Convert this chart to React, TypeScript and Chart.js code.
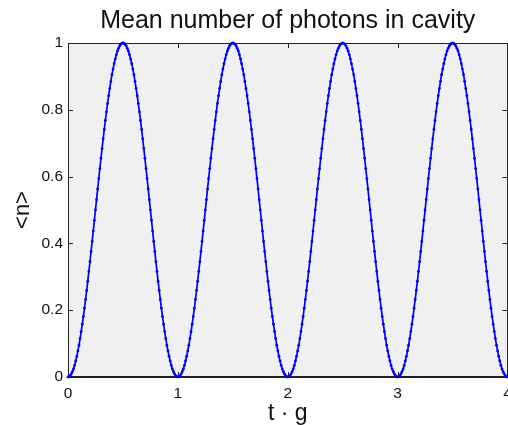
import { useEffect, useRef } from 'react';
import { Chart, registerables } from 'chart.js';

Chart.register(...registerables);

// Sample grid: t·g from 0 to 4 in steps of 0.01
const T_START = 0;
const T_STEP = 0.01;

// <n> samples, one Rabi cycle per array
const CYCLE_1 = [
  0, 0.001, 0.004, 0.009, 0.016, 0.024, 0.035, 0.048, 0.062, 0.078,
  0.095, 0.115, 0.136, 0.158, 0.181, 0.206, 0.232, 0.259, 0.287, 0.316,
  0.345, 0.376, 0.406, 0.437, 0.469, 0.5, 0.531, 0.563, 0.594, 0.624,
  0.655, 0.684, 0.713, 0.741, 0.768, 0.794, 0.819, 0.842, 0.864, 0.885,
  0.905, 0.922, 0.938, 0.952, 0.965, 0.976, 0.984, 0.991, 0.996, 0.999,
  1, 0.999, 0.996, 0.991, 0.984, 0.976, 0.965, 0.952, 0.938, 0.922,
  0.905, 0.885, 0.864, 0.842, 0.819, 0.794, 0.768, 0.741, 0.713, 0.684,
  0.655, 0.624, 0.594, 0.563, 0.531, 0.5, 0.469, 0.437, 0.406, 0.376,
  0.345, 0.316, 0.287, 0.259, 0.232, 0.206, 0.181, 0.158, 0.136, 0.115,
  0.095, 0.078, 0.062, 0.048, 0.035, 0.024, 0.016, 0.009, 0.004, 0.001,
];
const CYCLE_2 = [
  0, 0.001, 0.004, 0.009, 0.016, 0.024, 0.035, 0.048, 0.062, 0.078,
  0.095, 0.115, 0.136, 0.158, 0.181, 0.206, 0.232, 0.259, 0.287, 0.316,
  0.345, 0.376, 0.406, 0.437, 0.469, 0.5, 0.531, 0.563, 0.594, 0.624,
  0.655, 0.684, 0.713, 0.741, 0.768, 0.794, 0.819, 0.842, 0.864, 0.885,
  0.905, 0.922, 0.938, 0.952, 0.965, 0.976, 0.984, 0.991, 0.996, 0.999,
  1, 0.999, 0.996, 0.991, 0.984, 0.976, 0.965, 0.952, 0.938, 0.922,
  0.905, 0.885, 0.864, 0.842, 0.819, 0.794, 0.768, 0.741, 0.713, 0.684,
  0.655, 0.624, 0.594, 0.563, 0.531, 0.5, 0.469, 0.437, 0.406, 0.376,
  0.345, 0.316, 0.287, 0.259, 0.232, 0.206, 0.181, 0.158, 0.136, 0.115,
  0.095, 0.078, 0.062, 0.048, 0.035, 0.024, 0.016, 0.009, 0.004, 0.001,
];
const CYCLE_3 = [
  0, 0.001, 0.004, 0.009, 0.016, 0.024, 0.035, 0.048, 0.062, 0.078,
  0.095, 0.115, 0.136, 0.158, 0.181, 0.206, 0.232, 0.259, 0.287, 0.316,
  0.345, 0.376, 0.406, 0.437, 0.469, 0.5, 0.531, 0.563, 0.594, 0.624,
  0.655, 0.684, 0.713, 0.741, 0.768, 0.794, 0.819, 0.842, 0.864, 0.885,
  0.905, 0.922, 0.938, 0.952, 0.965, 0.976, 0.984, 0.991, 0.996, 0.999,
  1, 0.999, 0.996, 0.991, 0.984, 0.976, 0.965, 0.952, 0.938, 0.922,
  0.905, 0.885, 0.864, 0.842, 0.819, 0.794, 0.768, 0.741, 0.713, 0.684,
  0.655, 0.624, 0.594, 0.563, 0.531, 0.5, 0.469, 0.437, 0.406, 0.376,
  0.345, 0.316, 0.287, 0.259, 0.232, 0.206, 0.181, 0.158, 0.136, 0.115,
  0.095, 0.078, 0.062, 0.048, 0.035, 0.024, 0.016, 0.009, 0.004, 0.001,
];
const CYCLE_4 = [
  0, 0.001, 0.004, 0.009, 0.016, 0.024, 0.035, 0.048, 0.062, 0.078,
  0.095, 0.115, 0.136, 0.158, 0.181, 0.206, 0.232, 0.259, 0.287, 0.316,
  0.345, 0.376, 0.406, 0.437, 0.469, 0.5, 0.531, 0.563, 0.594, 0.624,
  0.655, 0.684, 0.713, 0.741, 0.768, 0.794, 0.819, 0.842, 0.864, 0.885,
  0.905, 0.922, 0.938, 0.952, 0.965, 0.976, 0.984, 0.991, 0.996, 0.999,
  1, 0.999, 0.996, 0.991, 0.984, 0.976, 0.965, 0.952, 0.938, 0.922,
  0.905, 0.885, 0.864, 0.842, 0.819, 0.794, 0.768, 0.741, 0.713, 0.684,
  0.655, 0.624, 0.594, 0.563, 0.531, 0.5, 0.469, 0.437, 0.406, 0.376,
  0.345, 0.316, 0.287, 0.259, 0.232, 0.206, 0.181, 0.158, 0.136, 0.115,
  0.095, 0.078, 0.062, 0.048, 0.035, 0.024, 0.016, 0.009, 0.004, 0.001,
  0,
];

const X_TICKS = [0, 1, 2, 3, 4];
const Y_TICKS = [0, 0.2, 0.4, 0.6, 0.8, 1];

const TITLE = 'Mean number of photons in cavity';
const X_LABEL = 't · g';
const Y_LABEL = '<n>';

const FONT = '"Liberation Sans", Arial, Helvetica, sans-serif';
const TEXT_COLOR = '#111';

// Gray plot background, box outline and inward tick marks on all four sides
const framePlugin = {
  id: 'frame',
  beforeDatasetsDraw(chart: any) {
    const { ctx, chartArea: a, scales } = chart;
    const len = 5;
    ctx.save();
    ctx.fillStyle = '#f0f0f0';
    ctx.fillRect(a.left, a.top, a.right - a.left, a.bottom - a.top);

    ctx.strokeStyle = '#222';
    ctx.lineWidth = 1;
    ctx.beginPath();
    for (const v of X_TICKS) {
      const x = Math.round(scales.x.getPixelForValue(v)) + 0.5;
      ctx.moveTo(x, a.bottom);
      ctx.lineTo(x, a.bottom - len);
      ctx.moveTo(x, a.top);
      ctx.lineTo(x, a.top + len);
    }
    for (const v of Y_TICKS) {
      const y = Math.round(scales.y.getPixelForValue(v)) + 0.5;
      ctx.moveTo(a.left, y);
      ctx.lineTo(a.left + len, y);
      ctx.moveTo(a.right, y);
      ctx.lineTo(a.right - len, y);
    }
    ctx.stroke();

    ctx.beginPath();
    ctx.moveTo(Math.round(a.left) + 0.5, Math.round(a.bottom));
    ctx.lineTo(Math.round(a.left) + 0.5, Math.round(a.top) + 0.5);
    ctx.lineTo(Math.round(a.right) - 0.5, Math.round(a.top) + 0.5);
    ctx.lineTo(Math.round(a.right) - 0.5, Math.round(a.bottom));
    ctx.stroke();

    ctx.lineWidth = 2.2;
    ctx.beginPath();
    ctx.moveTo(a.left, Math.round(a.bottom));
    ctx.lineTo(a.right, Math.round(a.bottom));
    ctx.stroke();
    ctx.restore();
  },
};

export default function App() {
  const canvasRef = useRef<HTMLCanvasElement | null>(null);

  useEffect(() => {
    const canvas = canvasRef.current;
    if (!canvas) return;

    const values = [...CYCLE_1, ...CYCLE_2, ...CYCLE_3, ...CYCLE_4];
    const points = values.map((y, i) => ({ x: +(T_START + i * T_STEP).toFixed(2), y }));

    const chart = new Chart(canvas, {
      type: 'line',
      data: {
        datasets: [
          {
            data: points,
            borderColor: '#0000ff',
            backgroundColor: '#0000ff',
            borderWidth: 1.7,
            pointRadius: 1.4,
            pointBorderWidth: 0,
            pointStyle: 'circle',
            tension: 0,
            clip: 4,
          },
        ],
      },
      options: {
        animation: false,
        responsive: false,
        devicePixelRatio: 1,
        events: [],
        layout: { autoPadding: false, padding: { left: 0, right: 0.5, top: 0, bottom: 0 } },
        plugins: {
          legend: { display: false },
          tooltip: { enabled: false },
          title: {
            display: true,
            text: TITLE,
            fullSize: false,
            color: TEXT_COLOR,
            font: { family: FONT, size: 25, weight: 'normal' },
            padding: { top: 6.5, bottom: 6.5 },
          },
        },
        scales: {
          x: {
            type: 'linear',
            min: 0,
            max: 4,
            afterBuildTicks(s: any) {
              s.ticks = X_TICKS.map((value) => ({ value }));
            },
            afterFit(s: any) {
              s.height = 48;
              s.paddingLeft = 0;
              s.paddingRight = 0;
            },
            ticks: {
              color: TEXT_COLOR,
              padding: 7,
              maxRotation: 0,
              autoSkip: false,
              font: { family: FONT, size: 15.5 },
              callback: (v: any) => String(v),
            },
            grid: { display: false, drawTicks: false },
            border: { display: false },
            title: {
              display: true,
              text: X_LABEL,
              color: TEXT_COLOR,
              font: { family: FONT, size: 23 },
              padding: { top: 0, bottom: -2 },
            },
          },
          y: {
            type: 'linear',
            min: 0,
            max: 1,
            afterBuildTicks(s: any) {
              s.ticks = Y_TICKS.map((value) => ({ value }));
            },
            afterFit(s: any) {
              s.width = 68;
              s.paddingTop = 0;
              s.paddingBottom = 0;
            },
            ticks: {
              color: TEXT_COLOR,
              padding: 5,
              autoSkip: false,
              font: { family: FONT, size: 15.5 },
              callback: (v: any) => String(v),
            },
            grid: { display: false, drawTicks: false },
            border: { display: false },
            title: {
              display: true,
              text: Y_LABEL,
              color: TEXT_COLOR,
              font: { family: FONT, size: 22 },
              padding: { top: 9.5, bottom: 0 },
            },
          },
        },
      },
      plugins: [framePlugin],
    });

    return () => chart.destroy();
  }, []);

  return (
    <div style={{ position: 'fixed', left: 0, top: 0, width: 508, height: 425, background: '#fff' }}>
      <canvas ref={canvasRef} width={508} height={425} style={{ display: 'block', width: 508, height: 425 }} />
    </div>
  );
}
